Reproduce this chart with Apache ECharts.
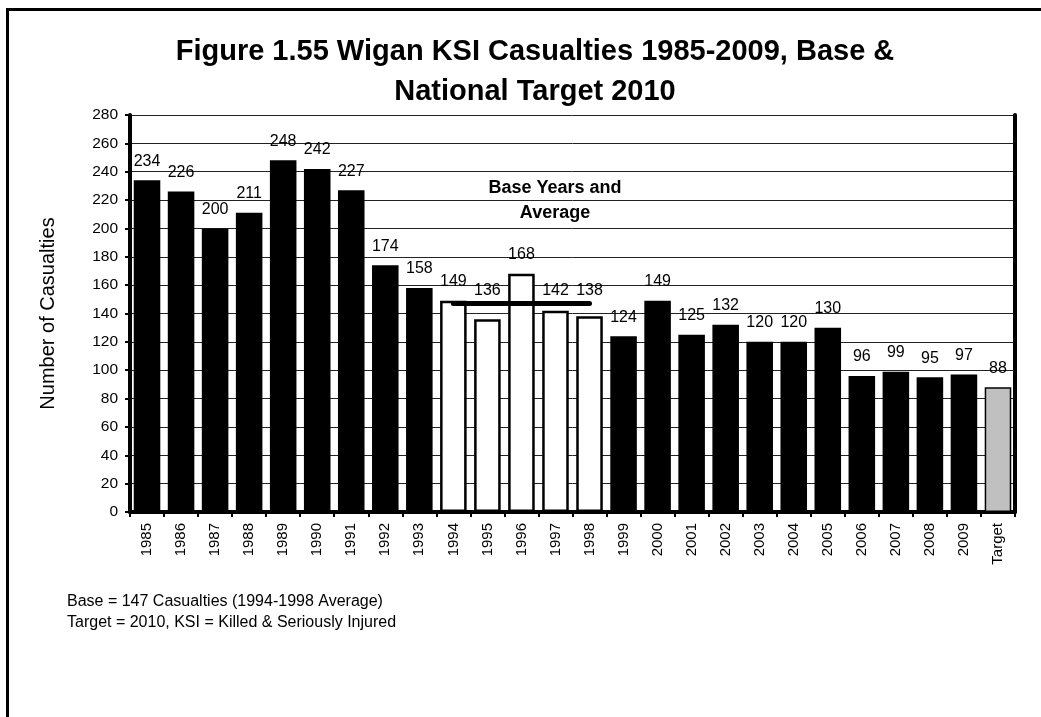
<!DOCTYPE html>
<html>
<head>
<meta charset="utf-8">
<script src="https://cdn.jsdelivr.net/npm/echarts@6/dist/echarts.min.js"></script>
<style>
html,body{margin:0;padding:0;background:#fff;}
#chart{width:1041px;height:717px;}
</style>
</head>
<body>
<div id="chart"></div>
<script>
var categories = ['1985','1986','1987','1988','1989','1990','1991','1992','1993','1994','1995','1996','1997','1998','1999','2000','2001','2002','2003','2004','2005','2006','2007','2008','2009','Target'];
var casualties = [234,226,200,211,248,242,227,174,158,149,136,168,142,138,124,149,125,132,120,120,130,96,99,95,97,88];
var baseYears = ['1994','1995','1996','1997','1998'];
var baseAverage = 147;
var yTicks = {min:0, max:280, interval:20};

var FONT = 'Liberation Sans, Arial, sans-serif';

// labels that were lifted clear of the base-average line in the original
var liftedLabelDistance = {'1995':21, '1997':12, '1998':18};

var barData = casualties.map(function(v, i){
  var cat = categories[i];
  var style;
  if (cat === 'Target') style = {color:'#c0c0c0', borderColor:'#000', borderWidth:1.5};
  else if (baseYears.indexOf(cat) >= 0) style = {color:'#fff', borderColor:'#000', borderWidth:2.5};
  else style = {color:'#000'};
  var item = {value:v, itemStyle:style};
  if (liftedLabelDistance[cat] != null) item.label = {distance: liftedLabelDistance[cat]};
  return item;
});
var baseLine = categories.map(function(c){ return baseYears.indexOf(c) >= 0 ? baseAverage : null; });

var chart = echarts.init(document.getElementById('chart'));
chart.setOption({
  animation:false,
  backgroundColor:'#fff',
  title:{
    text:'Figure 1.55 Wigan KSI Casualties 1985-2009, Base &\nNational Target 2010',
    left:530, top:27, textAlign:'center',
    textStyle:{fontFamily:FONT, fontSize:29, fontWeight:'bold', color:'#000', lineHeight:40}
  },
  grid:{left:130, right:26, top:115, bottom:205},
  xAxis:[{
    type:'category', data:categories,
    axisLine:{lineStyle:{color:'#000', width:2}},
    axisTick:{show:true, length:5, lineStyle:{color:'#000', width:2}},
    axisLabel:{rotate:90, fontFamily:FONT, fontSize:15, color:'#000', margin:11},
    splitLine:{show:false}
  },{
    type:'category', data:categories, position:'top',
    axisLine:{lineStyle:{color:'#000', width:4}},
    axisTick:{show:false}, axisLabel:{show:false}
  }],
  yAxis:[{
    type:'value', min:yTicks.min, max:yTicks.max, interval:yTicks.interval,
    name:'Number of Casualties', nameLocation:'middle', nameGap:72,
    nameTextStyle:{fontFamily:FONT, fontSize:20, color:'#000'},
    axisLine:{show:true, lineStyle:{color:'#000', width:4}},
    axisTick:{show:true, length:5, lineStyle:{color:'#000', width:2}},
    axisLabel:{fontFamily:FONT, fontSize:15.5, color:'#000', margin:12},
    splitLine:{show:true, lineStyle:{color:'#222', width:1}}
  },{
    type:'value', min:yTicks.min, max:yTicks.max, interval:yTicks.interval, position:'right',
    axisLine:{show:true, lineStyle:{color:'#000', width:4}},
    axisTick:{show:false}, axisLabel:{show:false}, splitLine:{show:false}
  }],
  series:[{
    type:'bar', data:barData, barCategoryGap:'22%',
    label:{show:true, position:'top', distance:11, fontFamily:FONT, fontSize:16, color:'#000'},
    z:2
  },{
    type:'line', data:baseLine, symbol:'none', connectNulls:false,
    lineStyle:{color:'#000', width:5, cap:'round'}, z:5
  }],
  graphic:[
    {type:'rect', shape:{x:7.5, y:9.5, width:1200, height:900}, style:{fill:'none', stroke:'#000', lineWidth:3}, silent:true},
    {type:'text', x:555, y:188, style:{text:'Base Years and', font:'bold 18px '+FONT, fill:'#000', textAlign:'center', textVerticalAlign:'middle'}},
    {type:'text', x:555, y:213, style:{text:'Average', font:'bold 18px '+FONT, fill:'#000', textAlign:'center', textVerticalAlign:'middle'}},
    {type:'text', x:67, y:602, style:{text:'Base = 147 Casualties (1994-1998 Average)', font:'16px '+FONT, fill:'#000', textVerticalAlign:'middle'}},
    {type:'text', x:67, y:623, style:{text:'Target = 2010, KSI = Killed & Seriously Injured', font:'16px '+FONT, fill:'#000', textVerticalAlign:'middle'}}
  ]
});
</script>
</body>
</html>
